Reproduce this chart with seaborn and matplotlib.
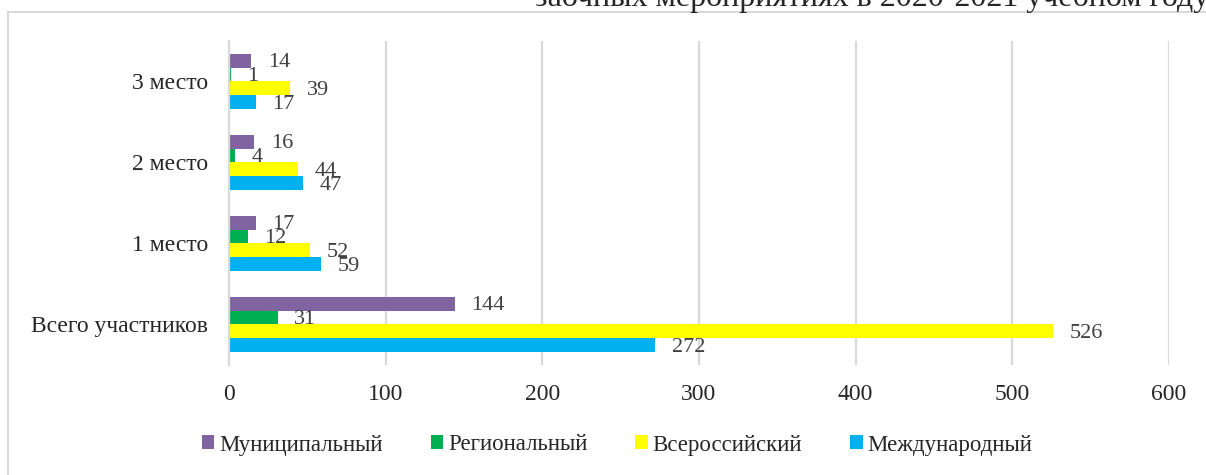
import pandas as pd
import matplotlib
matplotlib.use('Agg')
import matplotlib.pyplot as plt
from matplotlib.patches import Rectangle
import seaborn as sns

# Chart data
categories = ['3 место', '2 место', '1 место', 'Всего участников']
levels = ['Муниципальный', 'Региональный', 'Всероссийский', 'Международный']
municipal = [14, 16, 17, 144]
regional = [1, 4, 12, 31]
all_russian = [39, 44, 52, 526]
international = [17, 47, 59, 272]
colors = ['#8064A2', '#00B050', '#FFFF00', '#00B0F0']
x_ticks = [0, 100, 200, 300, 400, 500, 600]

df = pd.DataFrame({
    'category': categories * 4,
    'level': [lv for lv in levels for _ in categories],
    'value': municipal + regional + all_russian + international,
})

sns.set_style('white')
plt.rcParams['font.family'] = ['Liberation Serif', 'DejaVu Serif']

fig = plt.figure(figsize=(12.06, 4.75), dpi=100)
ax = fig.add_axes([0.1899, 0.2316, 0.7794, 0.6821])

sns.barplot(data=df, x='value', y='category', hue='level', order=categories,
            hue_order=levels, palette=colors, width=0.68, saturation=1,
            linewidth=0, orient='h', ax=ax)

# data labels, a touch below bar centre like the original
for c in ax.containers:
    texts = ax.bar_label(c, padding=12, fontsize=16, color='#404040')
    for t in texts:
        t.xyann = (t.xyann[0], -1.5)

ax.set_xlim(0, 600)
ax.set_xticks(x_ticks)
ax.set_xlabel('')
ax.set_ylabel('')
ax.grid(axis='x', color='#d9d9d9', linewidth=1.6)
ax.set_axisbelow(True)
for s in ['top', 'right', 'bottom']:
    ax.spines[s].set_visible(False)
ax.spines['left'].set_color('#d9d9d9')
ax.spines['left'].set_linewidth(1.6)
ax.tick_params(axis='x', length=0, labelsize=17, pad=14)
ax.tick_params(axis='y', length=0, labelsize=17, pad=15)

handles, labels = ax.get_legend_handles_labels()
ax.get_legend().remove()
fig.legend(handles, labels, loc='center', bbox_to_anchor=(617 / 1206, 1 - 445 / 475),
           ncol=4, frameon=False, fontsize=16.5, handlelength=0.55, handleheight=0.55,
           handletextpad=0.2, columnspacing=2.1)

# chart frame and cut-off caption above it
fig.patches.append(Rectangle((8 / 1206, -0.1), 1.2, (475 - 12) / 475 + 0.1,
                             transform=fig.transFigure, fill=False,
                             edgecolor='#d9d9d9', linewidth=1.5))
fig.text(1214 / 1206, 1 - 6 / 475, 'заочных мероприятиях в 2020-2021 учебном году.',
         ha='right', va='baseline', fontsize=23)

fig.savefig('out.png', dpi=100)
